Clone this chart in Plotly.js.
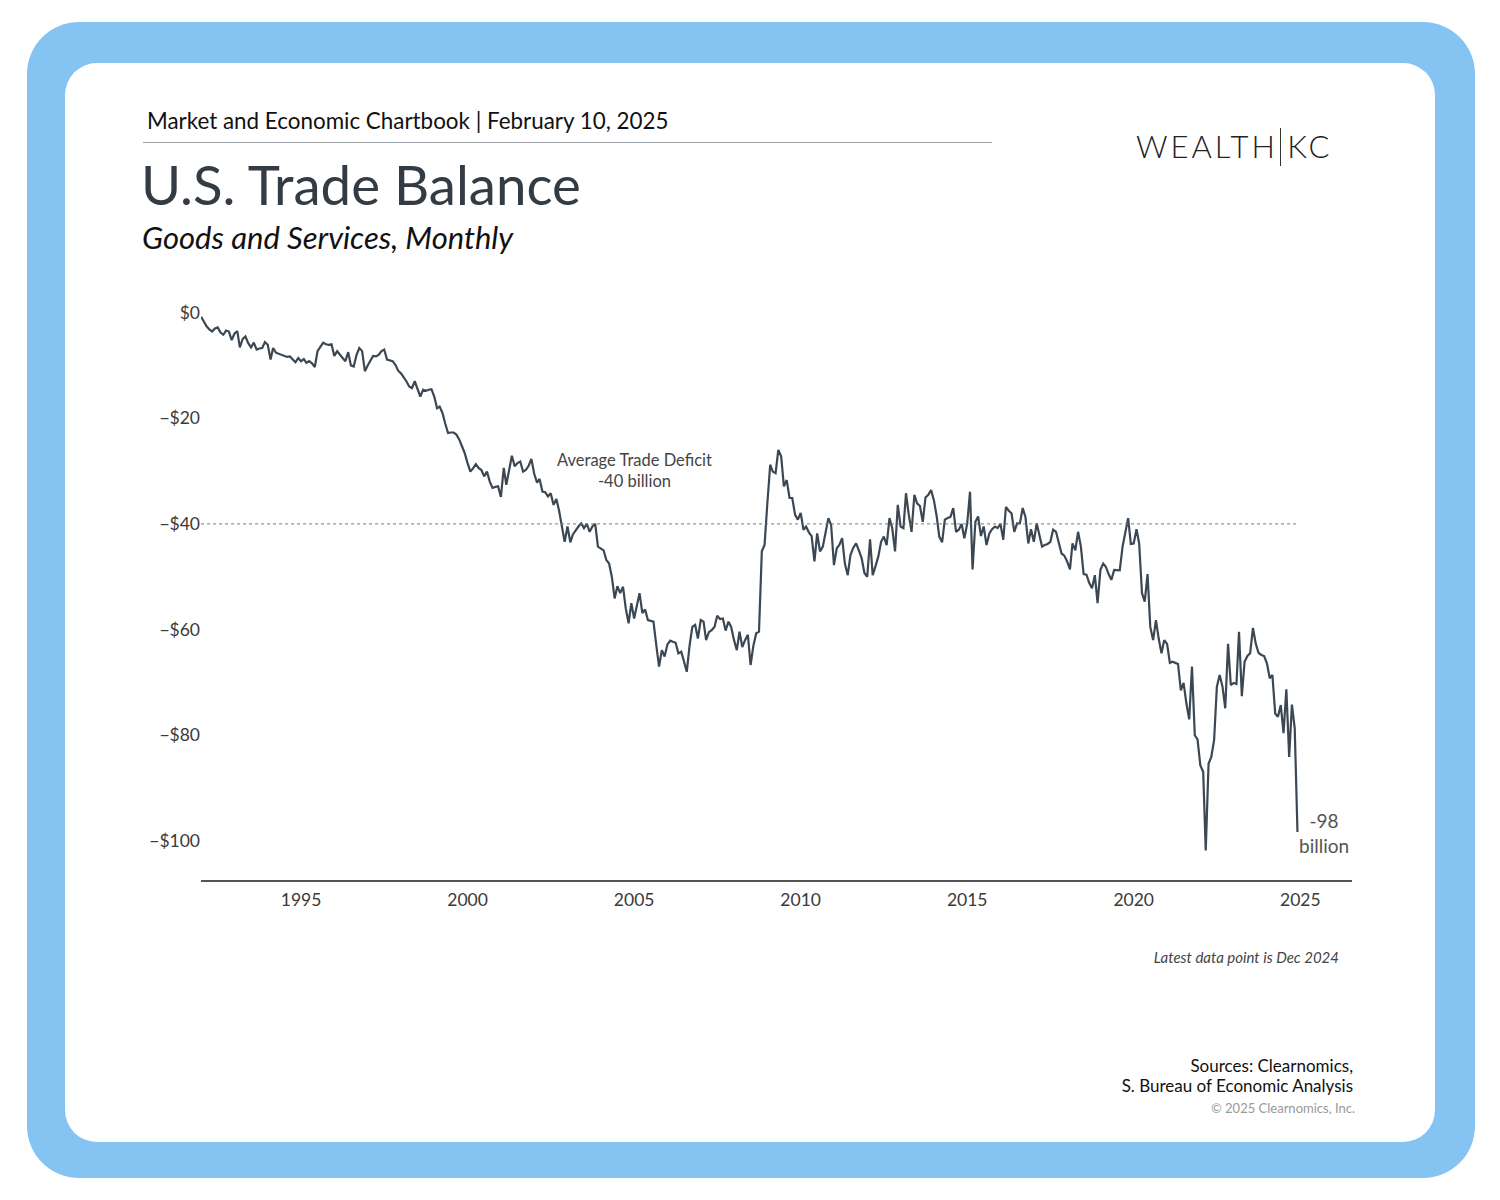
<!DOCTYPE html>
<html>
<head>
<meta charset="utf-8">
<script src="https://cdn.plot.ly/plotly-3.0.1.min.js"></script>
<style>
  html, body { margin:0; padding:0; background:#ffffff; }
  body { width:1500px; height:1200px; position:relative; overflow:hidden; font-family: "Source Sans Pro", Lato, "Noto Sans", sans-serif; }
  .frame { position:absolute; left:27px; top:22px; width:1448px; height:1156px; background:#85c3f3; border-radius:52px; }
  .inner { position:absolute; left:65px; top:63px; width:1370px; height:1079px; background:#ffffff; border-radius:32px; }
  .txt { position:absolute; white-space:nowrap; }
  #chart { position:absolute; left:0; top:0; width:1500px; height:1200px; }
</style>
</head>
<body>
<div class="frame"></div>
<div class="inner"></div>
<div class="txt" id="kicker" style="left:147px; top:107px; font-size:22.4px; color:#111;">Market and Economic Chartbook | February 10, 2025</div>
<div style="position:absolute; left:143px; top:142px; width:849px; height:0; border-top:1.5px solid #9aa0a6;"></div>
<div class="txt" id="title" style="left:141px; top:151px; font-size:54.6px; color:#333b45;">U.S. Trade Balance</div>
<div class="txt" id="subtitle" style="left:142px; top:218px; font-size:31px; font-style:italic; color:#111;">Goods and Services, Monthly</div>
<div class="txt" id="logo" style="left:1136px; top:127px; font-size:31px; font-weight:300; letter-spacing:3px; color:#222;">WEALTH<span style="display:inline-block; width:1.5px; height:38px; background:#333; vertical-align:-8px; margin:0 6px 0 2px;"></span>KC</div>
<div class="txt" style="right:161px; top:948px; font-size:15px; font-style:italic; color:#444;">Latest data point is Dec 2024</div>
<div class="txt" style="right:147px; top:1056px; font-size:17px; color:#111; text-align:right; line-height:20px;">Sources: Clearnomics,<br>S. Bureau of Economic Analysis</div>
<div class="txt" style="right:145px; top:1100px; font-size:13px; color:#999;">© 2025 Clearnomics, Inc.</div>
<div id="chart"></div>
<script>
// Monthly U.S. trade balance, goods and services, billions of dollars (Jan 1992 - Dec 2024)
const balance1990s = [
  -0.8, -1.8, -2.6, -3.2, -3.6, -3.0, -2.8, -3.8, -4.2, -3.4, -3.6, -5.2,
  -4.0, -3.5, -6.6, -5.0, -4.5, -5.8, -6.6, -5.7, -7.0, -6.8, -6.7, -5.6,
  -6.1, -8.9, -6.7, -7.6, -7.8, -8.0, -8.3, -8.4, -8.3, -8.8, -9.4, -8.6,
  -9.2, -8.8, -9.5, -9.2, -9.6, -10.3, -7.3, -6.5, -5.7, -6.0, -6.1, -6.0,
  -8.2, -7.3, -8.0, -8.6, -9.2, -7.5, -10.0, -10.2, -8.0, -6.7, -7.3, -11.1,
  -10.0, -8.9, -8.2, -8.3, -8.0, -7.3, -7.0, -8.9, -9.0, -9.2, -9.9, -11.0,
  -11.5, -12.2, -13.0, -14.0, -14.3, -13.0, -14.6, -15.9, -14.6, -14.8, -14.6, -14.5,
  -15.9, -18.1, -17.8, -19.0, -21.0, -22.8, -22.7, -22.7, -23.1, -24.0, -25.3, -26.6
];
const balance2000s = [
  -28.5, -30.1, -29.5, -28.7, -29.4, -29.8, -31.0, -30.1, -32.0, -33.2, -33.0, -32.9,
  -34.9, -29.4, -32.6, -30.0, -27.1, -29.1, -28.5, -28.2, -30.1, -29.8, -29.0, -27.7,
  -30.5, -32.2, -31.5, -33.9, -34.0, -34.8, -34.2, -36.4, -35.3, -37.5, -40.5, -43.4,
  -40.5, -43.5, -42.0, -41.1, -40.5, -39.9, -40.8, -40.0, -41.5, -40.5, -40.0, -44.3,
  -44.6, -45.0, -46.8, -47.5, -50.0, -54.1, -51.8, -53.1, -51.9, -56.0, -58.8, -55.0,
  -57.9, -55.0, -53.1, -56.9, -56.2, -58.2, -58.3, -58.5, -63.0, -67.0, -63.9, -65.1,
  -62.8, -62.1, -62.3, -62.5, -64.5, -64.2, -66.0, -68.0, -63.0, -59.5, -59.1, -61.7,
  -58.2, -58.5, -62.0, -60.5, -60.1, -59.5, -57.4, -58.0, -57.9, -60.2, -58.5, -59.5,
  -62.0, -63.9, -60.4, -63.3, -62.0, -61.0, -66.7, -63.0, -60.7, -60.4, -45.2, -44.0,
  -36.0, -28.8, -30.1, -30.4, -26.0, -27.2, -32.9, -31.7, -35.1, -35.1, -38.3, -39.2
];
const balance2010s = [
  -37.9, -41.1, -40.5, -41.6, -42.3, -47.1, -41.8, -45.2, -44.3, -41.5, -38.9, -40.2,
  -47.8, -44.6, -44.0, -42.7, -47.5, -49.7, -45.9, -44.5, -43.7, -45.0, -46.5, -49.3,
  -50.0, -42.9, -49.7, -48.0, -46.2, -43.4, -42.4, -44.0, -38.9, -40.8, -45.2, -36.4,
  -40.5, -40.8, -34.2, -38.3, -41.5, -34.5, -36.1, -36.6, -39.6, -35.0, -34.5, -33.6,
  -35.5, -38.6, -42.4, -43.5, -39.2, -38.9, -38.7, -37.0, -41.5, -41.1, -40.0, -42.7,
  -40.0, -33.9, -48.6, -39.6, -38.6, -42.3, -40.5, -44.0, -41.8, -41.0, -40.5, -40.8,
  -40.0, -43.0, -36.8, -37.5, -38.0, -41.5, -39.9, -39.9, -37.0, -38.7, -43.7, -41.0,
  -43.4, -39.9, -41.8, -44.3, -44.0, -43.8, -43.4, -41.1, -41.5, -43.7, -45.6, -46.0,
  -47.1, -48.6, -43.7, -45.0, -41.5, -44.3, -49.5, -49.6, -51.2, -52.2, -49.7, -55.0,
  -48.7, -47.5, -48.1, -49.5, -50.6, -48.7, -48.8, -48.8, -44.3, -41.5, -38.9, -43.8
];
const balance2020s = [
  -43.7, -41.0, -43.7, -53.1, -54.7, -49.5, -59.5, -62.0, -58.2, -61.7, -64.5, -62.0,
  -62.7, -66.3, -66.1, -66.3, -66.5, -71.5, -70.1, -74.0, -77.0, -67.0, -80.0, -80.8,
  -85.7, -86.9, -101.8, -85.4, -84.1, -80.9, -70.8, -68.6, -70.8, -74.9, -62.7, -70.5,
  -70.1, -70.3, -60.4, -72.6, -66.1, -65.0, -64.5, -59.7, -62.7, -64.4, -64.8, -65.0,
  -66.4, -69.2, -68.6, -75.9, -76.5, -74.3, -79.6, -71.3, -84.1, -74.2, -78.7, -98.3
];
const startYear = 1992;
const averageDeficit = -40;
const xTickYears = [1995, 2000, 2005, 2010, 2015, 2020, 2025];
const yTickValues = [-100, -80, -60, -40, -20, 0];
const yTickLabels = ['\u2212$100', '\u2212$80', '\u2212$60', '\u2212$40', '\u2212$20', '$0'];
const avgLabel = 'Average Trade Deficit<br>-40 billion';
const lastLabel = '-98<br>billion';

const values = balance1990s.concat(balance2000s, balance2010s, balance2020s);
const months = values.map((v, i) => {
  const y = startYear + Math.floor(i / 12);
  const m = (i % 12) + 1;
  return y + '-' + String(m).padStart(2, '0') + '-01';
});
const lastDate = months[months.length - 1];
const lastValue = values[values.length - 1];

const FONT = '"Source Sans Pro", Lato, "Noto Sans", sans-serif';
const lineColor = '#3b4854';

const trace = {
  x: months, y: values, type: 'scatter', mode: 'lines',
  line: { color: lineColor, width: 2.2 },
  hoverinfo: 'skip'
};

const layout = {
  width: 1500, height: 1200,
  margin: { l: 201, r: 148, t: 302.45, b: 320, pad: 0 },
  paper_bgcolor: 'rgba(0,0,0,0)', plot_bgcolor: 'rgba(0,0,0,0)',
  showlegend: false,
  font: { family: FONT, color: '#3a3a3a', size: 17 },
  xaxis: {
    type: 'date', range: ['1991-12-31', '2026-07-22'],
    tickvals: xTickYears.map(y => y + '-01-01'), ticktext: xTickYears.map(String),
    showgrid: false, zeroline: false, showline: true, linecolor: '#555', linewidth: 1.5,
    ticks: '', ticklabelstandoff: 3, tickfont: { family: FONT, size: 17.5, color: '#3a3a3a' }
  },
  yaxis: {
    range: [-107.4, 2], tickvals: yTickValues, ticktext: yTickLabels,
    showgrid: false, zeroline: false, showline: false, ticks: '',
    tickfont: { family: FONT, size: 17.5, color: '#3a3a3a' }
  },
  shapes: [{
    type: 'line', xref: 'x', yref: 'y',
    x0: months[0], x1: lastDate, y0: averageDeficit, y1: averageDeficit,
    line: { color: '#777', width: 1, dash: 'dot' }
  }],
  annotations: [
    { x: '2005-01-01', y: averageDeficit, xref: 'x', yref: 'y', yshift: 53, text: avgLabel,
      showarrow: false, align: 'center', font: { family: FONT, size: 16.5, color: '#444' } },
    { x: lastDate, y: lastValue, xref: 'x', yref: 'y', xanchor: 'left', xshift: 0, yshift: -1,
      text: lastLabel, showarrow: false, align: 'center', font: { family: FONT, size: 19, color: '#555' } }
  ]
};

Plotly.newPlot('chart', [trace], layout, { staticPlot: true, displayModeBar: false });
</script>
</body>
</html>
